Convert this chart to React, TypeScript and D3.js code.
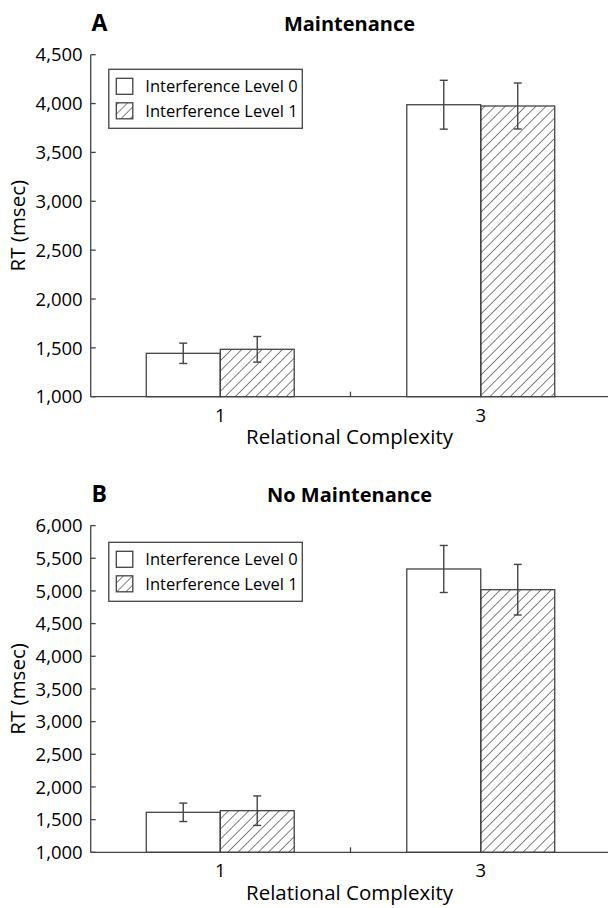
import React from 'react'
import * as d3 from 'd3'

const categories = ['1', '3']
const seriesNames = ['Interference Level 0', 'Interference Level 1']

const maintLevel0 = [1444, 3988]
const maintLevel1 = [1485, 3975]
const maintErr0 = [104, 250]
const maintErr1 = [131, 235]
const maintTicks = [1000, 1500, 2000, 2500, 3000, 3500, 4000, 4500]

const noMaintLevel0 = [1612, 5336]
const noMaintLevel1 = [1637, 5019]
const noMaintErr0 = [141, 360]
const noMaintErr1 = [226, 387]
const noMaintTicks = [1000, 1500, 2000, 2500, 3000, 3500, 4000, 4500, 5000, 5500, 6000]

const FONT = '"Open Sans", "Noto Sans", sans-serif'
const INK = '#444'
const fmt = d3.format(',')

const x = d3.scaleLinear().domain([-0.5, 1.5]).range([90, 611])
const barW = x(0.284) - x(0)
const AXIS_X = 90.7
const AXIS_END = 608

const Panel = ({ letter, title, top, bottom, ticks, level0, level1, err0, err1, legendY }) => {
  const y = d3.scaleLinear()
    .domain([ticks[0], ticks[ticks.length - 1]])
    .range([bottom, top])
  const groups = categories.map((c, i) => ({
    cat: c,
    cx: x(i),
    bars: [
      { v: level0[i], e: err0[i], x0: x(i) - barW, fill: '#fff' },
      { v: level1[i], e: err1[i], x0: x(i), fill: 'url(#hatch)' },
    ],
  }))
  const lx = 108.8
  const ly = top + legendY
  return (
    <g>
      <text x={91.5} y={top - 24} fontFamily={FONT} fontWeight={700} fontSize={23}>{letter}</text>
      <text x={349.5} y={top - 24} fontFamily={FONT} fontWeight={700} fontSize={20} textAnchor="middle">{title}</text>

      {groups.map((g) => (
        <g key={g.cat}>
          {g.bars.map((b, j) => (
            <rect key={j} x={b.x0} y={y(b.v)} width={barW} height={bottom - y(b.v)}
              fill={b.fill} stroke={INK} strokeWidth={1.3} />
          ))}
          {g.bars.map((b, j) => {
            const cx = b.x0 + barW / 2
            return (
              <g key={'e' + j} stroke={INK} strokeWidth={1.4}>
                <line x1={cx} x2={cx} y1={y(b.v + b.e)} y2={y(b.v - b.e)} />
                <line x1={cx - 4} x2={cx + 4} y1={y(b.v + b.e)} y2={y(b.v + b.e)} />
                <line x1={cx - 4} x2={cx + 4} y1={y(b.v - b.e)} y2={y(b.v - b.e)} />
              </g>
            )
          })}
          <text x={g.cx} y={bottom + 25} fontFamily={FONT} fontSize={18.5} textAnchor="middle">{g.cat}</text>
        </g>
      ))}

      {/* axes */}
      <line x1={AXIS_X} x2={AXIS_X} y1={y(ticks[ticks.length - 1])} y2={bottom} stroke={INK} strokeWidth={1.3} />
      <line x1={AXIS_X} x2={AXIS_END} y1={bottom} y2={bottom} stroke={INK} strokeWidth={1.3} />
      <line x1={x(0.5)} x2={x(0.5)} y1={bottom} y2={bottom - 5} stroke={INK} strokeWidth={1.3} />
      {ticks.map((t) => (
        <g key={t}>
          <line x1={AXIS_X} x2={AXIS_X + 5} y1={y(t)} y2={y(t)} stroke={INK} strokeWidth={1.3} />
          <text x={AXIS_X - 8} y={y(t)} dy="0.36em" fontFamily={FONT} fontSize={18.5} textAnchor="end">{fmt(t)}</text>
        </g>
      ))}
      <text x={349.5} y={bottom + 47.5} fontFamily={FONT} fontSize={20.5} textAnchor="middle">Relational Complexity</text>
      <text transform={`translate(25,${(top + bottom) / 2}) rotate(-90)`} fontFamily={FONT} fontSize={20.5} textAnchor="middle">RT (msec)</text>

      {/* legend */}
      <rect x={lx} y={ly} width={193.5} height={59} fill="#fff" stroke={INK} strokeWidth={1.3} />
      {seriesNames.map((s, i) => (
        <g key={s}>
          <rect x={lx + 7.5} y={ly + 9 + i * 24.5} width={16.5} height={16} fill={i === 0 ? '#fff' : 'url(#hatchL)'} stroke={INK} strokeWidth={1.3} />
          <text x={lx + 36.5} y={ly + 23 + i * 24.5} fontFamily={FONT} fontSize={16.5}>{s}</text>
        </g>
      ))}
    </g>
  )
}

export default function App() {
  return (
    <svg width={608} height={908} style={{ position: 'absolute', left: 0, top: 0, background: '#fff' }}>
      <defs>
        <pattern id="hatch" patternUnits="userSpaceOnUse" width={7.2} height={7.2} patternTransform="rotate(45)">
          <line x1={0} x2={0} y1={0} y2={7.2} stroke="#1a1a1a" strokeWidth={1.1} />
        </pattern>
        <pattern id="hatchL" patternUnits="userSpaceOnUse" width={6.5} height={6.5} patternTransform="rotate(45)">
          <line x1={0} x2={0} y1={0} y2={6.5} stroke="#1a1a1a" strokeWidth={1.1} />
        </pattern>
      </defs>
      <rect width={608} height={908} fill="#fff" />
      <Panel letter="A" title="Maintenance" top={54.7} bottom={396.7} ticks={maintTicks}
        level0={maintLevel0} level1={maintLevel1} err0={maintErr0} err1={maintErr1} legendY={14.6} />
      <Panel letter="B" title="No Maintenance" top={525.6} bottom={852.3} ticks={noMaintTicks}
        level0={noMaintLevel0} level1={noMaintLevel1} err0={noMaintErr0} err1={noMaintErr1} legendY={16.7} />
    </svg>
  )
}
